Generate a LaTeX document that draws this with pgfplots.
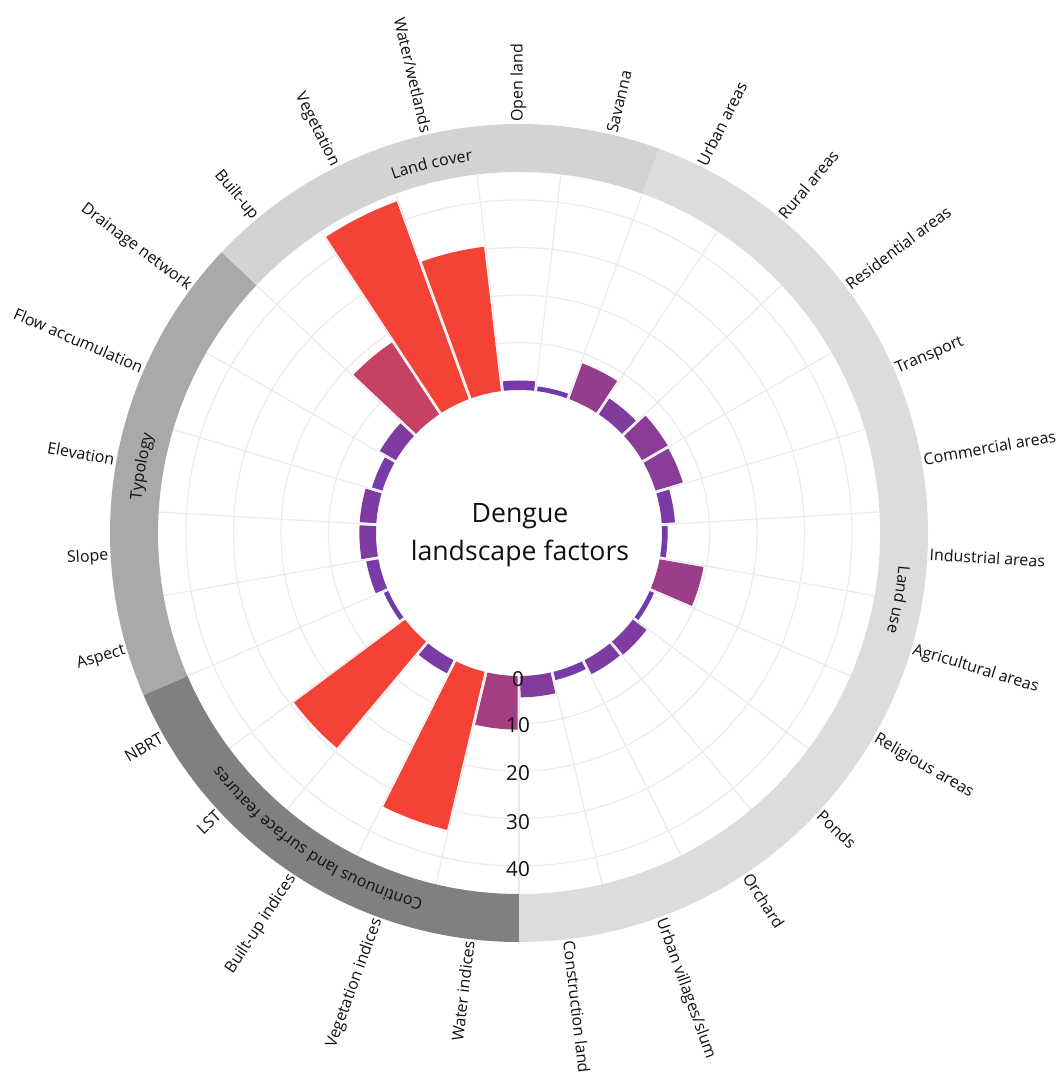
\documentclass[border=0pt]{standalone}
\usepackage{pgfplots}
\pgfplotsset{compat=1.18}
\usepackage{pgfplotstable}
\usepackage{fontspec}
\setmainfont{Open Sans}
\usetikzlibrary{decorations.text}
\definecolor{barred}{HTML}{F44336}
\definecolor{barpurple}{HTML}{6D3AB2}
\definecolor{gridc}{HTML}{EBEBEB}
\definecolor{lcover}{HTML}{D3D3D3}
\definecolor{luse}{HTML}{DCDCDC}
\definecolor{ltypo}{HTML}{A9A9A9}
\definecolor{lcont}{HTML}{808080}
\definecolor{txt}{HTML}{101010}

\pgfplotstableread{
idx value
0 2.0
1 1.0
2 8.0
3 4.0
4 6.2
5 6.0
6 2.8
7 1.2
8 9.4
9 1.0
10 3.6
11 3.3
12 1.8
13 4.5
14 11.3
15 34.2
16 3.1
17 29.2
18 1.0
19 2.6
20 3.5
21 3.5
22 2.3
23 3.9
24 18.1
25 44.3
26 30.6
}\bars

\def\rz{143}
\def\sc{4.75}
\def\rin{361}
\def\rout{409}
\newcommand\lab{\fontsize{12}{14}\selectfont}

\begin{document}
\begin{tikzpicture}[x=0.75pt,y=0.75pt]
\useasboundingbox (-519,-542) rectangle (542,533);
% grid
\begin{scope}[draw=gridc, line width=0.9pt]
\foreach \v in {10,20,30,40} {\draw (0,0) circle[radius={\rz+\v*\sc}];}
\foreach \i in {0,...,26} {\draw ({90-(\i+0.5)*360/27}:\rz) -- ({90-(\i+0.5)*360/27}:\rin);}
\end{scope}

\begin{axis}[at={(0,0)}, anchor=origin, x=0.75pt, y=0.75pt,
  xmin=-519, xmax=542, ymin=-542, ymax=533, hide axis, clip=false]
\pgfplotsinvokeforeach{0,...,26}{%
  \pgfplotstablegetelem{#1}{value}\of\bars
  \pgfmathsetmacro\vv{\pgfplotsretval}
  \pgfmathsetmacro\ro{\rz+\vv*\sc}
  \pgfmathtruncatemacro\tv{min(100,round(\vv/28*100))}
  \pgfmathsetmacro\ac{90-#1*360/27}
  \pgfmathsetmacro\hw{180/27}
  \pgfmathsetmacro\doo{asin(1.5/\ro)}
  \pgfmathsetmacro\di{asin(1.5/\rz)}
  \gdef\coords{}
  \foreach \k in {0,...,10}{%
    \pgfmathsetmacro\ang{\ac+\hw-\doo-(2*\hw-2*\doo)*\k/10}%
    \xdef\coords{\coords (\ang,\ro)}}%
  \foreach \k in {0,...,10}{%
    \pgfmathsetmacro\ang{\ac-\hw+\di+(2*\hw-2*\di)*\k/10}%
    \xdef\coords{\coords (\ang,\rz)}}%
  \edef\tmp{\noexpand\addplot[fill=barred!\tv!barpurple, draw=none, data cs=polar] coordinates {\coords} -- cycle;}%
  \tmp
}
\end{axis}

% outer ring
\fill[lcover] (136.667:\rin) arc[start angle=136.667, end angle=70, radius=\rin] -- (70:\rout) arc[start angle=70, end angle=136.667, radius=\rout] -- cycle;
\fill[luse] (70:\rin) arc[start angle=70, end angle=-90, radius=\rin] -- (-90:\rout) arc[start angle=-90, end angle=70, radius=\rout] -- cycle;
\fill[lcont] (-90:\rin) arc[start angle=-90, end angle=-156.667, radius=\rin] -- (-156.667:\rout) arc[start angle=-156.667, end angle=-90, radius=\rout] -- cycle;
\fill[ltypo] (-156.667:\rin) arc[start angle=-156.667, end angle=-223.333, radius=\rin] -- (-223.333:\rout) arc[start angle=-223.333, end angle=-156.667, radius=\rout] -- cycle;

% group labels
\path[decorate, decoration={text along path, text align=center, text={|\color{txt}\lab|Land cover}}] (136.667:375) arc[start angle=136.667, end angle=70, radius=375];
\path[decorate, decoration={text along path, text align=center, text={|\color{txt}\lab|Land use}}] (10:381) arc[start angle=10, end angle=-30, radius=381];
\path[decorate, decoration={text along path, text align=center, text={|\color{txt}\lab|Continuous land surface features}}] (-80:379) arc[start angle=-80, end angle=-166.667, radius=379];
\path[decorate, decoration={text along path, text align=center, text={|\color{txt}\lab|Typology}}] (190:379) arc[start angle=190, end angle=150, radius=379];

% category labels
\foreach \i/\name in {0/Open land, 1/Savanna, 2/Urban areas, 3/Rural areas, 4/Residential areas, 5/Transport, 6/Commercial areas, 7/Industrial areas, 8/Agricultural areas, 9/Religious areas, 10/Ponds, 11/Orchard, 12/{Urban villages/slum}, 13/Construction land, 14/Water indices, 15/Vegetation indices, 16/Built-up indices, 17/LST, 18/NBRT, 19/Aspect, 20/Slope, 21/Elevation, 22/Flow accumulation, 23/Drainage network, 24/Built-up, 25/Vegetation, 26/{Water/wetlands}} {
  \pgfmathsetmacro\th{\i*360/27}
  \pgfmathsetmacro\ph{90-\th}
  \ifdim\th pt<180pt
    \node[anchor=mid west, rotate=\ph, inner sep=0pt, font=\lab, text=txt] at (\ph:411) {\name};
  \else
    \node[anchor=mid east, rotate=\ph+180, inner sep=0pt, font=\lab, text=txt] at (\ph:411) {\name};
  \fi
}

% centre title
\node[align=center, font=\fontsize{20}{28.5}\selectfont, text=txt] at (1,-2) {Dengue\\landscape factors};

% radial scale
\foreach \v/\y in {0/-146, 10/-192, 20/-240, 30/-289, 40/-336} {
  \node[font=\fontsize{15.5}{18}\selectfont, text=txt, inner sep=0pt] at (-1,\y) {\v};
}
\end{tikzpicture}
\end{document}
